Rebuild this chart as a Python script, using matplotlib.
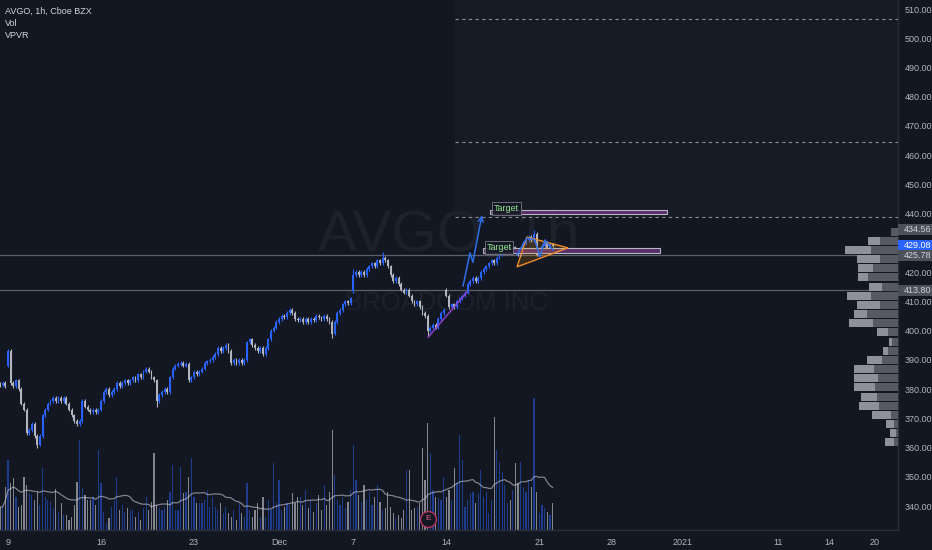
import matplotlib
matplotlib.use("Agg")
import matplotlib.pyplot as plt
import matplotlib.transforms as mtransforms
from matplotlib.patches import Rectangle, Polygon
import numpy as np
import pandas as pd

plt.rcParams['font.family'] = ['Liberation Sans', 'DejaVu Sans']

BG = '#131722'
UP = '#2962ff'
DOWN = '#b2b5be'
TXT = '#b2b5be'

# ---------------- data ----------------
first_bar = -3          # bar index of first candle (bar 0 = Nov 9, 9:30)
closes = [
    381.4, 382.0, 381.0, 393.0, 382.0, 381.0, 383.0, 380.0, 375.0, 373.0,
    365.0, 366.0, 368.0, 364.0, 361.0, 364.0, 371.0, 373.0, 375.0, 376.0,
    377.0, 376.0, 377.0, 376.0, 377.0, 375.0, 373.0, 371.0, 369.0, 368.0,
    369.0, 376.0, 374.0, 373.0, 372.0, 373.0, 372.0, 373.0, 376.0, 379.0,
    380.0, 378.0, 379.0, 380.0, 382.0, 381.0, 382.0, 383.0, 382.0, 383.0,
    384.0, 383.0, 385.0, 384.0, 386.0, 387.0, 386.0, 384.0, 383.0, 376.0,
    378.0, 379.0, 380.0, 379.0, 384.0, 387.0, 388.0, 388.5, 389.0, 388.0,
    388.5, 383.0, 384.0, 386.0, 385.0, 386.0, 387.0, 389.0, 389.5, 390.0,
    391.0, 392.0, 394.0, 393.0, 394.0, 395.0, 393.0, 389.0, 390.0, 389.0,
    390.0, 389.0, 390.0, 396.0, 397.0, 395.0, 394.0, 393.0, 394.0, 392.0,
    394.0, 397.0, 400.0, 401.0, 403.0, 404.0, 405.0, 404.5, 406.0, 407.0,
    406.0, 404.0, 403.5, 404.0, 403.0, 404.0, 403.0, 404.0, 403.5, 405.0,
    404.5, 404.0, 405.0, 404.0, 403.0, 399.0, 403.0, 406.0, 407.0, 409.0,
    410.0, 409.5, 411.0, 419.0, 420.0, 419.0, 420.0, 419.0, 421.0, 422.0,
    423.0, 422.0, 424.0, 423.0, 425.0, 424.0, 422.0, 419.0, 417.0, 418.0,
    416.0, 414.0, 413.0, 414.0, 412.0, 410.0, 409.0, 410.0, 408.0, 406.0,
    405.0, 400.0, 401.0, 402.0, 401.0, 404.0, 406.0, 407.0, 412.0, 408.0,
    409.0, 408.0, 410.0, 411.0, 412.0, 413.0, 416.0, 417.0, 418.0, 417.0,
    418.0, 420.0, 421.0, 422.0, 423.0, 424.0, 423.0, 425.0, 426.0, 427.0,
    428.0, 429.0, 428.0, 428.5, 427.0, 426.0, 428.0, 430.0, 431.0, 432.0,
    431.0, 433.0, 426.0, 428.0, 429.0, 430.0, 428.0, 429.5, 429.08,
]
first_open = 381.8
open_overrides = {0: 388.0, 130: 413.5, 165: 414.0}
high_overrides = {198: 434.56, 141: 426.8, 0: 393.6, 130: 421.0}
low_overrides = {158: 397.8, 11: 359.8, 56: 374.0, 122: 397.6}

volumes = [   # in 10k shares
    23, 23, 43, 70, 47, 52, 33, 23, 25, 53, 45, 37, 35, 30, 38, 25, 62, 33,
    30, 28, 22, 41, 18, 27, 15, 15, 10, 13, 25, 48, 90, 42, 35, 30, 30, 33,
    25, 80, 47, 18, 7, 12, 23, 30, 53, 20, 25, 18, 22, 20, 20, 13, 18, 10,
    22, 33, 20, 28, 77, 25, 22, 20, 23, 30, 38, 65, 20, 20, 63, 37, 38, 53,
    72, 33, 27, 27, 27, 30, 40, 23, 33, 23, 20, 27, 17, 23, 17, 13, 20, 10,
    27, 17, 13, 47, 20, 13, 20, 27, 13, 33, 13, 30, 20, 67, 27, 50, 20, 23,
    27, 25, 37, 27, 33, 33, 25, 40, 22, 30, 18, 27, 35, 20, 45, 25, 38, 100,
    55, 30, 25, 33, 22, 28, 40, 85, 50, 35, 28, 45, 30, 38, 25, 33, 45, 28,
    20, 22, 38, 23, 17, 12, 15, 12, 20, 60, 60, 20, 22, 23, 27, 82, 50, 107,
    77, 40, 33, 32, 30, 53, 33, 40, 30, 62, 47, 95, 70, 23, 30, 37, 38, 27,
    37, 60, 33, 38, 17, 30, 113, 80, 68, 58, 45, 27, 30, 40, 67, 47, 68, 43,
    38, 50, 43, 132, 38, 17, 25, 22, 18, 15, 27,
]
vol_ma_len = 20

# volume profile rows, from top (435.4) downwards
vp_top = 435.4
vp_step = 3.133
vp_dark = [7, 18, 27, 18, 25, 30, 16, 27, 18, 31, 25, 10, 6, 10, 16, 24, 20, 23, 21, 19, 7, 4, 2, 4]
vp_light = [0, 12, 26, 23, 15, 10, 13, 24, 23, 13, 24, 11, 3, 5, 15, 20, 24, 21, 16, 20, 19, 8, 6, 9]

date_labels = ['9', '16', '23', 'Dec', '7', '14', '21', '28', '2021', '11', '14', '20']
date_pos = [0, 35, 70, 102, 130, 165, 200, 227, 254, 290, 309, 326]
price_ticks = list(range(340, 511, 10))

solid_levels = [425.78, 413.80]
dashed_levels = [506.6, 464.5, 438.9]
zone_start = 168.2

price_tags = [(434.56, '#4c505b', '#d1d4dc'), (429.08, '#2962ff', '#ffffff'),
              (425.78, '#4c505b', '#d1d4dc'), (413.80, '#4c505b', '#d1d4dc')]

target_bars = [  # x0, x1, y0, y1, label_x, label_y
    (181.4, 248.0, 439.8, 441.4, 187.6, 441.8),
    (178.8, 245.4, 426.6, 428.3, 184.8, 428.4),
]
proj_x = [171.3, 173.9, 175.0, 178.4]
proj_y = [415.3, 426.6, 423.5, 439.5]
zig_x = [191.6, 195.3, 198.3, 200.2, 202.1, 205.1]
zig_y = [425.9, 431.7, 431.0, 425.2, 431.0, 427.6]
tri_x = [191.6, 195.3, 210.8]
tri_y = [421.8, 432.0, 428.3]
trend_x = [158.2, 172.8]
trend_y = [397.8, 413.2]
earnings_bar = 158

XLIM = (-3.0, 335.0)
YLIM = (331.8, 513.08)

# ---------------- figure ----------------
W, H = 932, 550
fig = plt.figure(figsize=(W / 100, H / 100), dpi=100, facecolor=BG)
rect = [0, 20 / H, 898 / W, 530 / H]

ax_vol = fig.add_axes(rect, zorder=0)
ax_vol.set_facecolor(BG)
ax = fig.add_axes(rect, zorder=1)
ax.patch.set_alpha(0)
ax_vp = fig.add_axes(rect, zorder=2)
ax_vp.patch.set_alpha(0)

n = len(closes)
idx = np.arange(first_bar, first_bar + n)
c = np.array(closes)
o = np.concatenate([[first_open], c[:-1]])
for k, v in open_overrides.items():
    o[k - first_bar] = v
hi = np.maximum(o, c) + 0.6
lo = np.minimum(o, c) - 0.6
for k, v in high_overrides.items():
    hi[k - first_bar] = v
for k, v in low_overrides.items():
    lo[k - first_bar] = v
up = c >= o
ccol = np.where(up, UP, DOWN)

# volume
vcol = [(0.16, 0.38, 1.0, 0.5) if u else (0.70, 0.71, 0.75, 0.7) for u in up]
ax_vol.bar(idx, volumes, width=0.45, color=vcol, linewidth=0)
ma = pd.Series(volumes, dtype=float).rolling(vol_ma_len, min_periods=1).mean()
ax_vol.plot(idx, ma, color='#c8cad2', alpha=0.6, lw=0.9)
ax_vol.set_xlim(*XLIM)
ax_vol.set_ylim(0, 530)
ax_vol.axis('off')

# shaded zone + levels
ax.add_patch(Rectangle((zone_start, dashed_levels[-1]), XLIM[1] - zone_start,
                       YLIM[1] - dashed_levels[-1], facecolor='#171b26', edgecolor='none', zorder=0))
for lv in dashed_levels:
    ax.plot([zone_start, XLIM[1]], [lv, lv], color='#8a8d96', lw=0.8,
            dashes=(3, 3), zorder=1)
for lv in solid_levels:
    ax.axhline(lv, color='#5d606b', lw=0.9, zorder=1)

# watermark
ax.text(0.5, 0.555, 'AVGO, 1h', transform=ax.transAxes, ha='center', va='center',
        fontsize=42, color='#1d212c', zorder=0.5)
ax.text(0.497, 0.428, 'BROADCOM INC', transform=ax.transAxes, ha='center', va='center',
        fontsize=18.5, color='#1d212c', zorder=0.5)

# candles
ax.vlines(idx, lo, hi, colors=ccol, lw=0.8, zorder=3)
body_b = np.minimum(o, c)
body_h = np.maximum(np.abs(c - o), 0.35)
ax.bar(idx, body_h, bottom=body_b, width=0.7, color=ccol, linewidth=0, zorder=3)

# drawings
for x0, x1, y0, y1, lx, ly in target_bars:
    ax.add_patch(Rectangle((x0, y0), x1 - x0, y1 - y0, facecolor='#5a2d6b',
                           edgecolor='#b5b8c0', lw=0.8, zorder=4))
    ax.text(lx, ly, 'Target', ha='center', va='center', fontsize=6.5, color='#8fe38f',
            zorder=5, bbox=dict(boxstyle='square,pad=0.2', fc='#131722', ec='#787b86',
                                lw=0.7, alpha=0.85))
ax.add_patch(Polygon(list(zip(tri_x, tri_y)), closed=True, facecolor=(1.0, 0.6, 0.0, 0.15),
                     edgecolor='#f08c2a', lw=1.0, zorder=4))
ax.plot(proj_x[:-1], proj_y[:-1], color='#2f6fe8', lw=1.1, zorder=5)
ax.annotate('', xy=(proj_x[-1], proj_y[-1]), xytext=(proj_x[-2], proj_y[-2]),
            arrowprops=dict(arrowstyle='->', color='#2f6fe8', lw=1.1, mutation_scale=9,
                            shrinkA=0, shrinkB=0), zorder=5)
ax.plot(zig_x, zig_y, color='#2f6fe8', lw=1.1, zorder=5)
ax.plot(trend_x, trend_y, color='#8e3fc8', lw=1.1, zorder=5)

# earnings marker
tb = mtransforms.blended_transform_factory(ax.transData, ax.transAxes)
ax.scatter([earnings_bar], [0.021], s=130, transform=tb, facecolor='#131722',
           edgecolor='#b2365e', lw=1.0, zorder=6, clip_on=False)
ax.text(earnings_bar, 0.021, 'E', transform=tb, ha='center', va='center', fontsize=6,
        color='#e0607e', zorder=7)

ax.set_xlim(*XLIM)
ax.set_ylim(*YLIM)
ax.yaxis.tick_right()
ax.set_yticks(price_ticks)
ax.set_yticklabels([f'{v:.2f}' for v in price_ticks])
ax.set_xticks(date_pos)
ax.set_xticklabels(date_labels)
ax.tick_params(axis='y', length=0, pad=5, labelcolor=TXT, labelsize=6.5)
ax.tick_params(axis='x', length=0, pad=6, labelcolor=TXT, labelsize=6.5)
for s in ['top', 'left']:
    ax.spines[s].set_visible(False)
for s in ['bottom', 'right']:
    ax.spines[s].set_color('#2a2e39')
    ax.spines[s].set_linewidth(1.0)

# price tags
ty = mtransforms.blended_transform_factory(ax.transAxes, ax.transData)
for p, fc, tc in price_tags:
    ax.add_patch(Rectangle((1.0, p - 1.85), 34 / 898, 3.7, transform=ty, facecolor=fc,
                           edgecolor='none', clip_on=False, zorder=8))
    ax.text(1.0 + 6 / 898, p, f'{p:.2f}', transform=ty, ha='left', va='center',
            fontsize=6.5, color=tc, zorder=9, clip_on=False)

# volume profile
centers = [vp_top - vp_step * (k + 0.5) for k in range(len(vp_dark))]
ax_vp.barh(centers, vp_dark, height=vp_step - 0.4, left=0, color='#575a65', linewidth=0)
ax_vp.barh(centers, vp_light, height=vp_step - 0.4, left=vp_dark, color='#8e919a', linewidth=0)
ax_vp.set_xlim(898, 0)
ax_vp.set_ylim(*YLIM)
ax_vp.axis('off')

# legend
for k, t in enumerate(['AVGO, 1h, Cboe BZX', 'Vol', 'VPVR']):
    fig.text(5 / W, 1 - (11 + 12 * k) / H, t, color='#d1d4dc', fontsize=6.5,
             ha='left', va='center')

fig.savefig('out.png', dpi=100, facecolor=BG)
